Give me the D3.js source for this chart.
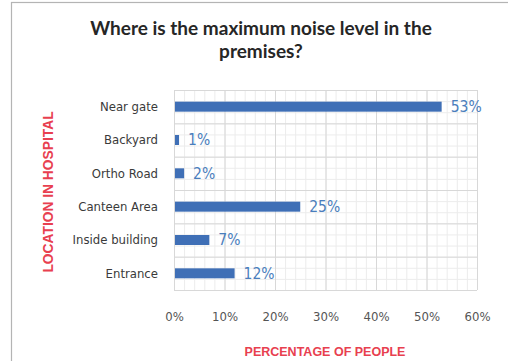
<!DOCTYPE html>
<html>
<head>
<meta charset="utf-8">
<script src="https://cdn.jsdelivr.net/npm/d3@7/dist/d3.min.js"></script>
<style>
  html, body { margin: 0; padding: 0; background: #ffffff; }
  svg { display: block; }
</style>
</head>
<body>
<svg id="chart" width="508" height="361"></svg>
<script>
// Survey: where people perceive the maximum noise level on hospital premises
const locations = ["Near gate", "Backyard", "Ortho Road", "Canteen Area", "Inside building", "Entrance"];
const percentages = [53, 1, 2, 25, 7, 12];
const xTicks = [0, 10, 20, 30, 40, 50, 60];
const titleLines = ["Where is the maximum noise level in the", "premises?"];
const xAxisTitle = "PERCENTAGE OF PEOPLE";
const yAxisTitle = "LOCATION IN HOSPITAL";

const svg = d3.select("#chart");
const W = 508, H = 361;
const plot = { left: 174, right: 477, top: 90, bottom: 290 };

const labelFont = "'DejaVu Sans Condensed', 'Liberation Sans', sans-serif";

// outer chart frame
svg.append("rect")
  .attr("x", 11.5).attr("y", 2.5)
  .attr("width", W + 10).attr("height", H + 10)
  .attr("fill", "#ffffff")
  .attr("stroke", "#b4b4b4")
  .attr("stroke-width", 1.2);

const x = d3.scaleLinear().domain([0, 60]).range([plot.left, plot.right]);
const y = d3.scaleBand().domain(locations).range([plot.top, plot.bottom]).paddingInner(0.7).paddingOuter(0.35);
const yRow = d3.scaleBand().domain(locations).range([plot.top, plot.bottom]);

// minor gridlines
const grid = svg.append("g");
grid.selectAll("line.vminor")
  .data(d3.range(0, 61, 2))
  .join("line")
  .attr("x1", d => x(d) + 0.5).attr("x2", d => x(d) + 0.5)
  .attr("y1", plot.top).attr("y2", plot.bottom)
  .attr("stroke", "#ececec").attr("stroke-width", 1);
const rowStep = yRow.step();
grid.selectAll("line.hminor")
  .data(d3.range(0, locations.length * 3 + 1))
  .join("line")
  .attr("x1", plot.left).attr("x2", plot.right)
  .attr("y1", d => plot.top + d * rowStep / 3 + 0.5)
  .attr("y2", d => plot.top + d * rowStep / 3 + 0.5)
  .attr("stroke", "#ececec").attr("stroke-width", 1);

// major gridlines
grid.selectAll("line.vmajor")
  .data(xTicks)
  .join("line")
  .attr("x1", d => x(d) + 0.5).attr("x2", d => x(d) + 0.5)
  .attr("y1", plot.top).attr("y2", plot.bottom)
  .attr("stroke", "#d8d8d8").attr("stroke-width", 1);
grid.selectAll("line.hmajor")
  .data(d3.range(0, locations.length + 1))
  .join("line")
  .attr("x1", plot.left).attr("x2", plot.right)
  .attr("y1", d => plot.top + d * rowStep + 0.5)
  .attr("y2", d => plot.top + d * rowStep + 0.5)
  .attr("stroke", "#d8d8d8").attr("stroke-width", 1);

// bars
svg.append("g").selectAll("rect")
  .data(locations)
  .join("rect")
  .attr("x", x(0) + 1)
  .attr("y", d => y(d))
  .attr("width", (d, i) => x(percentages[i]) - x(0) - 1)
  .attr("height", y.bandwidth())
  .attr("fill", "#3f6fb6");

// value labels
svg.append("g").selectAll("text")
  .data(locations)
  .join("text")
  .attr("x", (d, i) => x(percentages[i]) + 9)
  .attr("y", d => yRow(d) + yRow.bandwidth() / 2)
  .attr("dy", "0.35em")
  .attr("font-family", labelFont)
  .attr("font-size", 15.5)
  .attr("fill", "#4a7ebd")
  .text((d, i) => percentages[i] + "%");

// category axis labels
const yAxis = d3.axisLeft(yRow).tickSize(0).tickPadding(16);
const gy = svg.append("g").attr("transform", `translate(${plot.left},0)`).call(yAxis);
gy.select(".domain").remove();
gy.selectAll("text")
  .attr("font-family", labelFont)
  .attr("font-size", 13)
  .attr("fill", "#3a3a3a");

// percentage axis labels
const xAxis = d3.axisBottom(x).tickValues(xTicks).tickSize(0).tickPadding(0).tickFormat(d => d + "%");
const gx = svg.append("g").attr("transform", `translate(0,${plot.bottom + 22})`).call(xAxis);
gx.select(".domain").remove();
gx.selectAll("text")
  .attr("font-family", labelFont)
  .attr("font-size", 13)
  .attr("fill", "#555555");

// title
svg.append("g").selectAll("text")
  .data(titleLines)
  .join("text")
  .attr("x", 261)
  .attr("y", (d, i) => 35 + i * 23)
  .attr("text-anchor", "middle")
  .attr("font-family", "Lato, sans-serif")
  .attr("font-weight", 700)
  .attr("font-size", 19)
  .attr("fill", "#262626")
  .text(d => d);

// axis titles
svg.append("text")
  .attr("x", 325)
  .attr("y", 356)
  .attr("text-anchor", "middle")
  .attr("font-family", "'Liberation Sans', sans-serif")
  .attr("font-weight", "bold")
  .attr("font-size", 12.5)
  .attr("fill", "#e8404f")
  .text(xAxisTitle);

svg.append("text")
  .attr("transform", `translate(53,192) rotate(-90)`)
  .attr("text-anchor", "middle")
  .attr("font-family", "'Liberation Sans', sans-serif")
  .attr("font-weight", "bold")
  .attr("font-size", 13.8)
  .attr("fill", "#e8404f")
  .text(yAxisTitle);
</script>
</body>
</html>
